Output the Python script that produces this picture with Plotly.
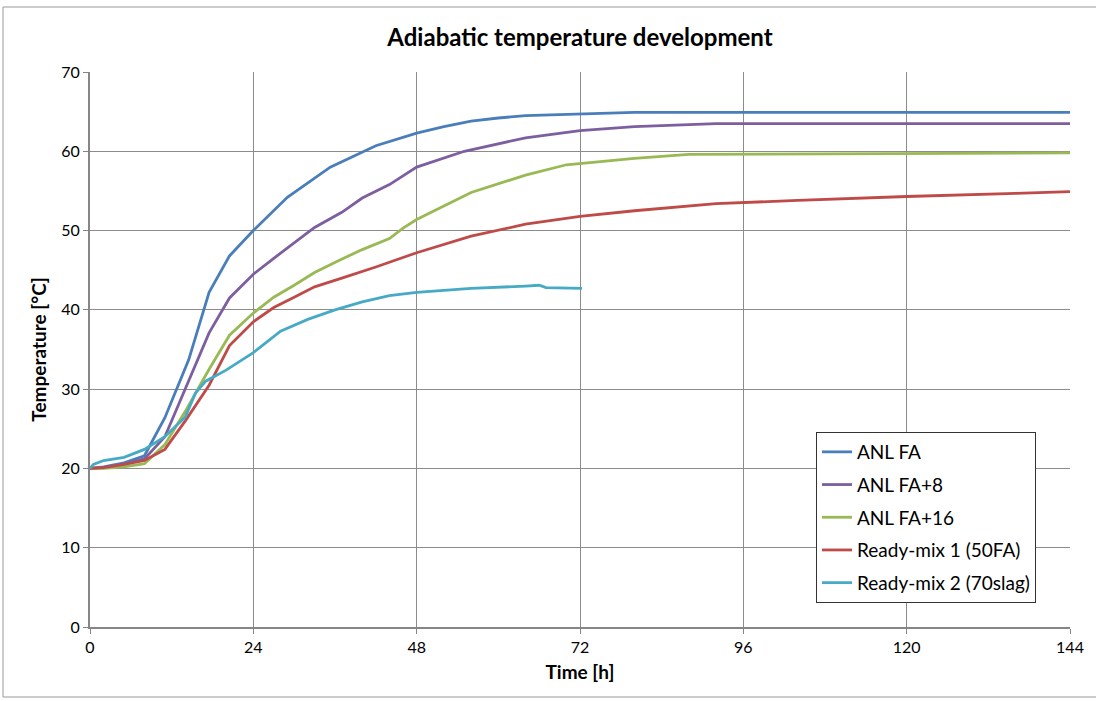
import plotly.graph_objects as go

# ANL FA
t_fa = [0, 2, 5, 8, 11, 14.5, 17.5, 20.5, 24, 29, 35.3, 42, 48, 52, 56, 60, 64, 72, 80, 100, 144]
T_fa = [20, 20.2, 20.7, 21.6, 26.4, 33.7, 42.2, 46.8, 50.0, 54.2, 58.0, 60.7, 62.3, 63.1, 63.8, 64.2, 64.5, 64.7, 64.9, 64.9, 64.9]

# ANL FA+8
t_fa8 = [0, 2, 5, 8, 11, 14, 17.5, 20.5, 24, 27, 30, 33, 37, 40, 44, 48, 55, 64, 72, 80, 92, 144]
T_fa8 = [20, 20.1, 20.5, 21.2, 24.0, 30.0, 37.1, 41.5, 44.5, 46.5, 48.4, 50.4, 52.3, 54.1, 55.8, 58.0, 60.0, 61.7, 62.6, 63.1, 63.5, 63.5]

# ANL FA+16
t_fa16 = [0, 2, 5, 8, 11, 14, 17.5, 20.5, 24, 27, 30, 33, 36.5, 40, 44, 46, 48, 56, 64, 70, 80, 88, 144]
T_fa16 = [20, 20.0, 20.2, 20.6, 23.0, 27.2, 32.5, 36.8, 39.6, 41.6, 43.1, 44.7, 46.2, 47.6, 49.0, 50.3, 51.4, 54.8, 57.0, 58.3, 59.1, 59.6, 59.8]

# Ready-mix 1 (50FA)
t_rm1 = [0, 2, 5, 8, 11, 14, 17.5, 20.5, 24, 27, 30, 33, 37, 42, 48, 56, 64, 72, 80, 92, 104, 120, 136, 144]
T_rm1 = [20, 20.1, 20.5, 21.0, 22.4, 26.0, 30.5, 35.5, 38.5, 40.3, 41.6, 42.9, 44.0, 45.4, 47.2, 49.3, 50.8, 51.8, 52.5, 53.4, 53.8, 54.3, 54.7, 54.9]

# Ready-mix 2 (70slag)
t_rm2 = [0, 0.5, 2, 5, 8, 11, 14, 15.5, 17, 20, 24, 28, 32, 36, 40, 44, 48, 56, 64, 66, 67, 72.3]
T_rm2 = [20, 20.5, 21.0, 21.4, 22.4, 24.0, 26.5, 29.5, 31.0, 32.4, 34.6, 37.3, 38.8, 40.0, 41.0, 41.8, 42.2, 42.7, 43.0, 43.1, 42.8, 42.7]

series = [
    ("ANL FA", t_fa, T_fa, "#4A7EBB"),
    ("ANL FA+8", t_fa8, T_fa8, "#7D5FA0"),
    ("ANL FA+16", t_fa16, T_fa16, "#98B954"),
    ("Ready-mix 1 (50FA)", t_rm1, T_rm1, "#BE4B48"),
    ("Ready-mix 2 (70slag)", t_rm2, T_rm2, "#46AAC5"),
]

x_ticks = [0, 24, 48, 72, 96, 120, 144]

fig = go.Figure()
for i, (name, xs, ys, col) in enumerate(series):
    fig.add_trace(go.Scatter(x=xs, y=ys, mode="lines", name=name,
                             line=dict(color=col, width=2.8),
                             legendgroup=str(i)))

FONT = "Lato, 'Open Sans', sans-serif"
fig.update_layout(
    width=1096, height=701,
    margin=dict(l=90, r=26, t=72, b=74),
    paper_bgcolor="white", plot_bgcolor="white",
    font=dict(family=FONT, size=16, color="black"),
    title=dict(text="<b>Adiabatic temperature development</b>", x=0.5, xref="paper",
               xanchor="center", y=1 - 38 / 701, yanchor="middle", font=dict(size=24)),
    xaxis=dict(range=[0, 144], tickvals=x_ticks, showgrid=True, gridcolor="#8c8c8c",
               gridwidth=1, showline=True, linecolor="#868686", linewidth=2,
               ticks="outside", ticklen=5, tickcolor="#868686", zeroline=False,
               title=dict(text="<b>Time [h]</b>", font=dict(size=19), standoff=10)),
    yaxis=dict(range=[0, 70], dtick=10, showgrid=True, gridcolor="#8c8c8c",
               gridwidth=1, showline=True, linecolor="#868686", linewidth=2,
               ticks="outside", ticklen=5, tickcolor="#868686", zeroline=False,
               title=dict(text="<b>Temperature [°C]</b>", font=dict(size=19), standoff=10)),
    legend=dict(x=(816 - 90) / 980, y=(627 - 432) / 555, xanchor="left", yanchor="top",
                bgcolor="white", bordercolor="#333333", borderwidth=1,
                font=dict(size=19), tracegroupgap=5, traceorder="grouped",
                itemwidth=30),
    showlegend=True,
)

# outer chart border
fig.add_shape(type="rect", xref="paper", yref="paper",
              x0=(3 - 90) / 980, x1=(1098 - 90) / 980,
              y0=(627 - 697) / 555, y1=(627 - 7) / 555,
              line=dict(color="#999999", width=1), layer="below")

fig.write_html("out.html")
